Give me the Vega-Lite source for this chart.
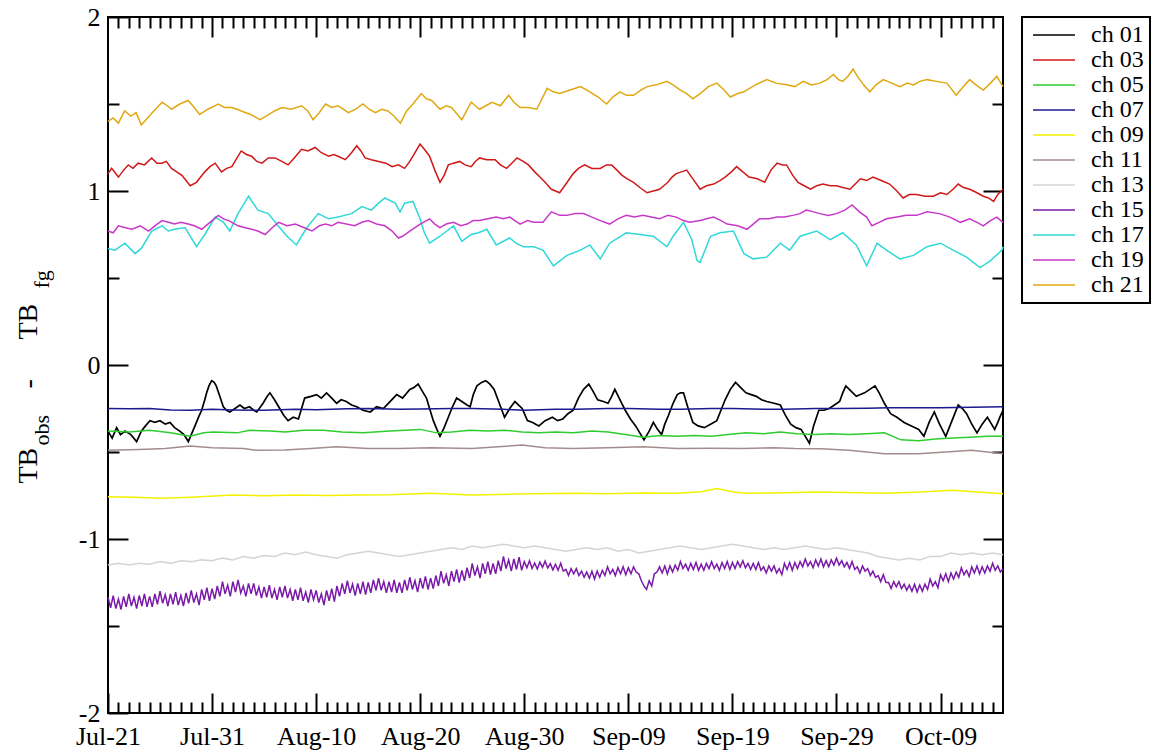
{
  "$schema": "https://vega.github.io/schema/vega-lite/v6.json",
  "width": 895,
  "height": 696,
  "autosize": "none",
  "padding": {"left": 108, "top": 17, "right": 158, "bottom": 40},
  "background": "white",
  "config": {
    "font": "Liberation Serif",
    "view": {"stroke": "black", "strokeWidth": 2},
    "range": {"category": ["#000000", "#d01818", "#2ecc2e", "#1a1a8e", "#f2f200", "#a48c8c", "#d4d4d4", "#7a1aa8", "#30d8d8", "#c838c8", "#e0a810"]},
    "line": {"strokeWidth": 1.5},
    "axis": {"domain": false, "grid": false, "tickColor": "black", "tickWidth": 2, "labelColor": "black", "labelFont": "Liberation Serif", "labelFontSize": 26, "titleColor": "black", "titleFont": "Liberation Serif", "titleFontWeight": "normal", "titleAngle": 270, "titleAlign": "left", "titleBaseline": "alphabetic"},
    "legend": {"orient": "none", "legendX": 914, "legendY": 0, "direction": "vertical", "strokeColor": "black", "strokeWidth": 2, "fillColor": "white", "padding": 6, "labelFont": "Liberation Serif", "labelFontSize": 24, "labelColor": "black", "symbolType": "M-1,0H5", "symbolSize": 196, "symbolStrokeWidth": 1.5, "labelOffset": 39, "rowPadding": 1, "labelLimit": 0}
  },
  "datasets": {
    "c01": [{"d":0,"v":-0.38},{"d":0.4,"v":-0.42},{"d":0.83,"v":-0.36},{"d":1.2,"v":-0.4},{"d":1.63,"v":-0.38},{"d":2.2,"v":-0.4},{"d":2.75,"v":-0.44},{"d":3.2,"v":-0.38},{"d":3.6,"v":-0.35},{"d":4.03,"v":-0.32},{"d":4.5,"v":-0.33},{"d":5,"v":-0.32},{"d":5.5,"v":-0.34},{"d":5.96,"v":-0.33},{"d":6.4,"v":-0.36},{"d":6.9,"v":-0.38},{"d":7.3,"v":-0.4},{"d":7.72,"v":-0.44},{"d":8,"v":-0.4},{"d":8.36,"v":-0.35},{"d":8.7,"v":-0.3},{"d":9,"v":-0.26},{"d":9.3,"v":-0.2},{"d":9.48,"v":-0.16},{"d":9.7,"v":-0.12},{"d":9.96,"v":-0.09},{"d":10.2,"v":-0.1},{"d":10.4,"v":-0.12},{"d":10.8,"v":-0.19},{"d":11.08,"v":-0.24},{"d":11.4,"v":-0.26},{"d":11.7,"v":-0.27},{"d":12.2,"v":-0.25},{"d":12.68,"v":-0.23},{"d":13.1,"v":-0.25},{"d":13.6,"v":-0.24},{"d":14,"v":-0.26},{"d":14.3,"v":-0.27},{"d":14.9,"v":-0.22},{"d":15.3,"v":-0.18},{"d":15.56,"v":-0.16},{"d":16,"v":-0.2},{"d":16.4,"v":-0.24},{"d":16.9,"v":-0.29},{"d":17.3,"v":-0.32},{"d":17.8,"v":-0.3},{"d":18.3,"v":-0.31},{"d":18.6,"v":-0.25},{"d":18.9,"v":-0.19},{"d":19.5,"v":-0.18},{"d":20.05,"v":-0.17},{"d":20.5,"v":-0.19},{"d":21,"v":-0.16},{"d":21.5,"v":-0.19},{"d":21.97,"v":-0.22},{"d":22.4,"v":-0.2},{"d":22.9,"v":-0.21},{"d":23.4,"v":-0.23},{"d":23.9,"v":-0.24},{"d":24.5,"v":-0.26},{"d":25.2,"v":-0.27},{"d":25.8,"v":-0.24},{"d":26.46,"v":-0.25},{"d":27.1,"v":-0.21},{"d":27.74,"v":-0.17},{"d":28.3,"v":-0.19},{"d":29,"v":-0.14},{"d":29.4,"v":-0.13},{"d":29.8,"v":-0.11},{"d":30.2,"v":-0.15},{"d":30.6,"v":-0.19},{"d":30.9,"v":-0.25},{"d":31.26,"v":-0.32},{"d":31.6,"v":-0.37},{"d":31.9,"v":-0.41},{"d":32.3,"v":-0.36},{"d":32.7,"v":-0.3},{"d":33.1,"v":-0.24},{"d":33.5,"v":-0.19},{"d":34,"v":-0.21},{"d":34.5,"v":-0.23},{"d":34.8,"v":-0.24},{"d":35.1,"v":-0.17},{"d":35.45,"v":-0.12},{"d":35.9,"v":-0.1},{"d":36.3,"v":-0.09},{"d":36.7,"v":-0.11},{"d":37.1,"v":-0.14},{"d":37.6,"v":-0.22},{"d":38.1,"v":-0.3},{"d":38.6,"v":-0.25},{"d":39.1,"v":-0.21},{"d":39.8,"v":-0.25},{"d":40.3,"v":-0.32},{"d":40.8,"v":-0.33},{"d":41.4,"v":-0.35},{"d":42,"v":-0.32},{"d":42.7,"v":-0.3},{"d":43.2,"v":-0.32},{"d":43.7,"v":-0.31},{"d":44.2,"v":-0.28},{"d":44.7,"v":-0.26},{"d":45.2,"v":-0.19},{"d":45.7,"v":-0.14},{"d":46.2,"v":-0.11},{"d":46.6,"v":-0.15},{"d":47.05,"v":-0.2},{"d":47.6,"v":-0.21},{"d":48.05,"v":-0.22},{"d":48.4,"v":-0.18},{"d":48.7,"v":-0.14},{"d":49.2,"v":-0.2},{"d":49.7,"v":-0.26},{"d":50.2,"v":-0.31},{"d":50.7,"v":-0.35},{"d":51.1,"v":-0.39},{"d":51.5,"v":-0.43},{"d":52,"v":-0.38},{"d":52.4,"v":-0.33},{"d":52.8,"v":-0.37},{"d":53.2,"v":-0.4},{"d":53.5,"v":-0.34},{"d":53.85,"v":-0.29},{"d":54.3,"v":-0.22},{"d":54.7,"v":-0.17},{"d":55,"v":-0.16},{"d":55.3,"v":-0.16},{"d":55.7,"v":-0.24},{"d":56.2,"v":-0.33},{"d":56.7,"v":-0.35},{"d":57.3,"v":-0.36},{"d":57.9,"v":-0.34},{"d":58.5,"v":-0.32},{"d":58.9,"v":-0.26},{"d":59.3,"v":-0.2},{"d":59.8,"v":-0.14},{"d":60.3,"v":-0.1},{"d":60.8,"v":-0.13},{"d":61.3,"v":-0.16},{"d":61.8,"v":-0.17},{"d":62.3,"v":-0.18},{"d":62.8,"v":-0.2},{"d":63.3,"v":-0.21},{"d":64,"v":-0.22},{"d":64.6,"v":-0.23},{"d":65.1,"v":-0.29},{"d":65.6,"v":-0.34},{"d":66.1,"v":-0.36},{"d":66.6,"v":-0.37},{"d":67,"v":-0.41},{"d":67.4,"v":-0.45},{"d":67.8,"v":-0.35},{"d":68.3,"v":-0.26},{"d":68.8,"v":-0.26},{"d":69.3,"v":-0.25},{"d":69.8,"v":-0.23},{"d":70.3,"v":-0.21},{"d":70.6,"v":-0.16},{"d":70.9,"v":-0.12},{"d":71.4,"v":-0.15},{"d":71.9,"v":-0.18},{"d":72.3,"v":-0.17},{"d":72.7,"v":-0.16},{"d":73.2,"v":-0.14},{"d":73.7,"v":-0.12},{"d":74.1,"v":-0.16},{"d":74.6,"v":-0.22},{"d":75.2,"v":-0.28},{"d":75.8,"v":-0.3},{"d":76.5,"v":-0.33},{"d":77.2,"v":-0.35},{"d":77.9,"v":-0.37},{"d":78.4,"v":-0.41},{"d":78.9,"v":-0.33},{"d":79.4,"v":-0.27},{"d":79.9,"v":-0.34},{"d":80.5,"v":-0.41},{"d":81.1,"v":-0.32},{"d":81.7,"v":-0.23},{"d":82.1,"v":-0.25},{"d":82.5,"v":-0.28},{"d":83,"v":-0.34},{"d":83.5,"v":-0.39},{"d":84,"v":-0.34},{"d":84.5,"v":-0.3},{"d":84.9,"v":-0.34},{"d":85.2,"v":-0.37},{"d":85.5,"v":-0.33},{"d":85.7,"v":-0.3},{"d":86,"v":-0.26}],
    "c03": [{"d":0,"v":1.1},{"d":0.35,"v":1.13},{"d":1,"v":1.08},{"d":1.5,"v":1.12},{"d":1.95,"v":1.15},{"d":2.4,"v":1.13},{"d":2.9,"v":1.16},{"d":3.5,"v":1.15},{"d":4.2,"v":1.19},{"d":4.7,"v":1.16},{"d":5.2,"v":1.16},{"d":5.6,"v":1.17},{"d":6.1,"v":1.13},{"d":6.6,"v":1.11},{"d":7.1,"v":1.09},{"d":7.5,"v":1.06},{"d":7.9,"v":1.03},{"d":8.5,"v":1.05},{"d":8.9,"v":1.08},{"d":9.3,"v":1.11},{"d":9.8,"v":1.14},{"d":10.3,"v":1.16},{"d":10.9,"v":1.11},{"d":11.4,"v":1.13},{"d":11.9,"v":1.14},{"d":12.4,"v":1.19},{"d":12.8,"v":1.23},{"d":13.3,"v":1.21},{"d":13.8,"v":1.2},{"d":14.3,"v":1.17},{"d":14.8,"v":1.16},{"d":15.4,"v":1.19},{"d":16.05,"v":1.19},{"d":16.7,"v":1.17},{"d":17.3,"v":1.15},{"d":17.9,"v":1.19},{"d":18.6,"v":1.24},{"d":19.2,"v":1.23},{"d":19.9,"v":1.25},{"d":20.5,"v":1.22},{"d":21.2,"v":1.2},{"d":21.7,"v":1.21},{"d":22.1,"v":1.2},{"d":22.8,"v":1.18},{"d":23.4,"v":1.22},{"d":23.9,"v":1.26},{"d":24.3,"v":1.23},{"d":24.7,"v":1.19},{"d":25.3,"v":1.18},{"d":26,"v":1.17},{"d":26.7,"v":1.16},{"d":27.3,"v":1.14},{"d":27.9,"v":1.15},{"d":28.5,"v":1.13},{"d":29,"v":1.17},{"d":29.5,"v":1.22},{"d":29.98,"v":1.27},{"d":30.4,"v":1.24},{"d":30.9,"v":1.2},{"d":31.4,"v":1.12},{"d":31.9,"v":1.05},{"d":32.3,"v":1.09},{"d":32.7,"v":1.15},{"d":33.2,"v":1.16},{"d":33.8,"v":1.17},{"d":34.3,"v":1.15},{"d":34.9,"v":1.14},{"d":35.3,"v":1.17},{"d":35.7,"v":1.19},{"d":36.4,"v":1.18},{"d":37.2,"v":1.18},{"d":37.7,"v":1.15},{"d":38.3,"v":1.13},{"d":38.8,"v":1.16},{"d":39.3,"v":1.19},{"d":39.9,"v":1.17},{"d":40.4,"v":1.15},{"d":41,"v":1.11},{"d":41.5,"v":1.08},{"d":42,"v":1.05},{"d":42.6,"v":1.01},{"d":43,"v":1},{"d":43.4,"v":0.99},{"d":44,"v":1.04},{"d":44.7,"v":1.1},{"d":45.2,"v":1.13},{"d":45.8,"v":1.15},{"d":46.5,"v":1.13},{"d":47.3,"v":1.13},{"d":47.9,"v":1.15},{"d":48.4,"v":1.15},{"d":48.9,"v":1.12},{"d":49.4,"v":1.09},{"d":49.9,"v":1.07},{"d":50.5,"v":1.05},{"d":51.1,"v":1.02},{"d":51.8,"v":0.99},{"d":52.4,"v":1},{"d":53,"v":1.01},{"d":53.4,"v":1.03},{"d":53.8,"v":1.05},{"d":54.2,"v":1.08},{"d":54.6,"v":1.1},{"d":55.1,"v":1.11},{"d":55.6,"v":1.12},{"d":56.2,"v":1.07},{"d":56.9,"v":1.01},{"d":57.5,"v":1.03},{"d":58.2,"v":1.04},{"d":58.8,"v":1.06},{"d":59.3,"v":1.08},{"d":59.9,"v":1.11},{"d":60.4,"v":1.14},{"d":61,"v":1.11},{"d":61.6,"v":1.08},{"d":62.4,"v":1.07},{"d":63.1,"v":1.05},{"d":63.7,"v":1.12},{"d":64.3,"v":1.16},{"d":64.8,"v":1.15},{"d":65.2,"v":1.15},{"d":65.8,"v":1.09},{"d":66.3,"v":1.05},{"d":66.9,"v":1.03},{"d":67.5,"v":1.01},{"d":68.1,"v":1.03},{"d":68.7,"v":1.04},{"d":69.4,"v":1.03},{"d":70,"v":1.03},{"d":70.6,"v":1.02},{"d":71.3,"v":1.01},{"d":71.8,"v":1.04},{"d":72.3,"v":1.07},{"d":72.9,"v":1.06},{"d":73.5,"v":1.08},{"d":74.3,"v":1.06},{"d":75.1,"v":1.04},{"d":75.8,"v":1},{"d":76.4,"v":0.96},{"d":77,"v":0.98},{"d":77.7,"v":0.98},{"d":78.5,"v":0.97},{"d":79.3,"v":0.97},{"d":80,"v":0.99},{"d":80.6,"v":0.98},{"d":81.2,"v":1.01},{"d":81.7,"v":1.04},{"d":82.2,"v":1.02},{"d":82.8,"v":1.01},{"d":83.5,"v":0.99},{"d":84.1,"v":0.97},{"d":84.6,"v":0.96},{"d":85.1,"v":0.94},{"d":85.5,"v":0.98},{"d":86,"v":1.01}],
    "c05": [{"d":0,"v":-0.38},{"d":2,"v":-0.385},{"d":4,"v":-0.375},{"d":6,"v":-0.39},{"d":7.9,"v":-0.41},{"d":9.2,"v":-0.39},{"d":10.1,"v":-0.385},{"d":12.4,"v":-0.39},{"d":13.6,"v":-0.375},{"d":15.6,"v":-0.38},{"d":17,"v":-0.385},{"d":18.8,"v":-0.375},{"d":20.7,"v":-0.375},{"d":22.5,"v":-0.385},{"d":24.5,"v":-0.39},{"d":27.1,"v":-0.38},{"d":30,"v":-0.37},{"d":31.6,"v":-0.39},{"d":33,"v":-0.385},{"d":34.8,"v":-0.375},{"d":36.5,"v":-0.38},{"d":38.1,"v":-0.375},{"d":39.8,"v":-0.385},{"d":41.4,"v":-0.39},{"d":43,"v":-0.385},{"d":44.7,"v":-0.39},{"d":46.5,"v":-0.38},{"d":48.05,"v":-0.385},{"d":49.7,"v":-0.4},{"d":51.4,"v":-0.415},{"d":53,"v":-0.405},{"d":54.7,"v":-0.41},{"d":56.3,"v":-0.405},{"d":58,"v":-0.41},{"d":59.6,"v":-0.4},{"d":61.3,"v":-0.39},{"d":63,"v":-0.395},{"d":64.6,"v":-0.385},{"d":66.2,"v":-0.395},{"d":67.9,"v":-0.4},{"d":69.5,"v":-0.395},{"d":71.2,"v":-0.4},{"d":72.9,"v":-0.395},{"d":74.6,"v":-0.39},{"d":76.2,"v":-0.43},{"d":77.9,"v":-0.435},{"d":79.5,"v":-0.425},{"d":81.2,"v":-0.42},{"d":82.8,"v":-0.415},{"d":84.5,"v":-0.41},{"d":86,"v":-0.41}],
    "c07": [{"d":0,"v":-0.25},{"d":2,"v":-0.252},{"d":4,"v":-0.25},{"d":6,"v":-0.258},{"d":8,"v":-0.26},{"d":10,"v":-0.255},{"d":12,"v":-0.258},{"d":15,"v":-0.26},{"d":18,"v":-0.255},{"d":20,"v":-0.257},{"d":23,"v":-0.252},{"d":25,"v":-0.25},{"d":28,"v":-0.255},{"d":30,"v":-0.253},{"d":33,"v":-0.25},{"d":35,"v":-0.25},{"d":38,"v":-0.255},{"d":40,"v":-0.26},{"d":43,"v":-0.255},{"d":45,"v":-0.255},{"d":48,"v":-0.25},{"d":50,"v":-0.25},{"d":53,"v":-0.255},{"d":55,"v":-0.255},{"d":58,"v":-0.25},{"d":60,"v":-0.25},{"d":63,"v":-0.255},{"d":65,"v":-0.255},{"d":68,"v":-0.25},{"d":70,"v":-0.25},{"d":73,"v":-0.248},{"d":75,"v":-0.245},{"d":78,"v":-0.246},{"d":80,"v":-0.245},{"d":83,"v":-0.243},{"d":86,"v":-0.24}],
    "c09": [{"d":0,"v":-0.757},{"d":2.5,"v":-0.76},{"d":5,"v":-0.766},{"d":8,"v":-0.76},{"d":12,"v":-0.747},{"d":15,"v":-0.752},{"d":18,"v":-0.747},{"d":21,"v":-0.75},{"d":24,"v":-0.747},{"d":27,"v":-0.745},{"d":31,"v":-0.737},{"d":35,"v":-0.747},{"d":39,"v":-0.742},{"d":44.7,"v":-0.737},{"d":48,"v":-0.74},{"d":51,"v":-0.735},{"d":54.7,"v":-0.737},{"d":57,"v":-0.728},{"d":58.5,"v":-0.71},{"d":60,"v":-0.728},{"d":61.3,"v":-0.737},{"d":64,"v":-0.735},{"d":68,"v":-0.73},{"d":71,"v":-0.733},{"d":74.6,"v":-0.737},{"d":78,"v":-0.73},{"d":81.2,"v":-0.72},{"d":83.5,"v":-0.73},{"d":86,"v":-0.74}],
    "c11": [{"d":0,"v":-0.49},{"d":3,"v":-0.485},{"d":5.5,"v":-0.48},{"d":7.9,"v":-0.465},{"d":10,"v":-0.475},{"d":13,"v":-0.48},{"d":14.3,"v":-0.49},{"d":17,"v":-0.488},{"d":19.5,"v":-0.48},{"d":22,"v":-0.47},{"d":25,"v":-0.48},{"d":28,"v":-0.48},{"d":31,"v":-0.475},{"d":35,"v":-0.48},{"d":37.5,"v":-0.47},{"d":39.8,"v":-0.46},{"d":42,"v":-0.475},{"d":44.7,"v":-0.48},{"d":48,"v":-0.475},{"d":51.4,"v":-0.47},{"d":54.7,"v":-0.48},{"d":58,"v":-0.478},{"d":61,"v":-0.48},{"d":64,"v":-0.475},{"d":66,"v":-0.48},{"d":68.5,"v":-0.482},{"d":71.2,"v":-0.49},{"d":74.6,"v":-0.51},{"d":77.9,"v":-0.51},{"d":80.5,"v":-0.5},{"d":83,"v":-0.49},{"d":86,"v":-0.51}],
    "c13": [{"d":0,"v":-1.15},{"d":1,"v":-1.14},{"d":2,"v":-1.15},{"d":3,"v":-1.14},{"d":4,"v":-1.145},{"d":5,"v":-1.13},{"d":6,"v":-1.14},{"d":7,"v":-1.125},{"d":8,"v":-1.13},{"d":9,"v":-1.12},{"d":10,"v":-1.125},{"d":11,"v":-1.11},{"d":12,"v":-1.12},{"d":13,"v":-1.1},{"d":14,"v":-1.11},{"d":15,"v":-1.095},{"d":16,"v":-1.1},{"d":17,"v":-1.08},{"d":18,"v":-1.09},{"d":19,"v":-1.075},{"d":20,"v":-1.09},{"d":21,"v":-1.1},{"d":22,"v":-1.11},{"d":23,"v":-1.09},{"d":24,"v":-1.08},{"d":25,"v":-1.07},{"d":26,"v":-1.08},{"d":27,"v":-1.09},{"d":28,"v":-1.1},{"d":29,"v":-1.09},{"d":30,"v":-1.08},{"d":31,"v":-1.07},{"d":32,"v":-1.06},{"d":33,"v":-1.05},{"d":34,"v":-1.06},{"d":35,"v":-1.04},{"d":36,"v":-1.05},{"d":37,"v":-1.04},{"d":38,"v":-1.03},{"d":39,"v":-1.04},{"d":40,"v":-1.05},{"d":41,"v":-1.04},{"d":42,"v":-1.05},{"d":43,"v":-1.06},{"d":44,"v":-1.07},{"d":45,"v":-1.06},{"d":46,"v":-1.05},{"d":47,"v":-1.06},{"d":48,"v":-1.05},{"d":49,"v":-1.07},{"d":50,"v":-1.06},{"d":51,"v":-1.08},{"d":52,"v":-1.07},{"d":53,"v":-1.06},{"d":54,"v":-1.05},{"d":55,"v":-1.04},{"d":56,"v":-1.05},{"d":57,"v":-1.06},{"d":58,"v":-1.05},{"d":59,"v":-1.04},{"d":60,"v":-1.03},{"d":61,"v":-1.04},{"d":62,"v":-1.05},{"d":63,"v":-1.06},{"d":64,"v":-1.05},{"d":65,"v":-1.06},{"d":66,"v":-1.05},{"d":67,"v":-1.04},{"d":68,"v":-1.05},{"d":69,"v":-1.06},{"d":70,"v":-1.05},{"d":71,"v":-1.06},{"d":72,"v":-1.07},{"d":73,"v":-1.08},{"d":74,"v":-1.1},{"d":75,"v":-1.11},{"d":76,"v":-1.12},{"d":77,"v":-1.11},{"d":78,"v":-1.12},{"d":79,"v":-1.1},{"d":80,"v":-1.1},{"d":81,"v":-1.08},{"d":82,"v":-1.09},{"d":83,"v":-1.08},{"d":84,"v":-1.09},{"d":85,"v":-1.08},{"d":86,"v":-1.09}],
    "c15": [{"d":0,"v":-1.335},{"d":0.25,"v":-1.395},{"d":0.5,"v":-1.325},{"d":0.75,"v":-1.4},{"d":1,"v":-1.345},{"d":1.25,"v":-1.405},{"d":1.5,"v":-1.33},{"d":1.75,"v":-1.39},{"d":2,"v":-1.315},{"d":2.25,"v":-1.385},{"d":2.5,"v":-1.335},{"d":2.75,"v":-1.4},{"d":3,"v":-1.325},{"d":3.25,"v":-1.385},{"d":3.5,"v":-1.315},{"d":3.75,"v":-1.39},{"d":4,"v":-1.33},{"d":4.25,"v":-1.39},{"d":4.5,"v":-1.315},{"d":4.75,"v":-1.375},{"d":5,"v":-1.3},{"d":5.25,"v":-1.37},{"d":5.5,"v":-1.32},{"d":5.75,"v":-1.385},{"d":6,"v":-1.315},{"d":6.25,"v":-1.375},{"d":6.5,"v":-1.305},{"d":6.75,"v":-1.38},{"d":7,"v":-1.325},{"d":7.25,"v":-1.385},{"d":7.5,"v":-1.31},{"d":7.75,"v":-1.37},{"d":8,"v":-1.295},{"d":8.25,"v":-1.365},{"d":8.5,"v":-1.315},{"d":8.75,"v":-1.38},{"d":9,"v":-1.29},{"d":9.25,"v":-1.35},{"d":9.5,"v":-1.28},{"d":9.75,"v":-1.355},{"d":10,"v":-1.285},{"d":10.25,"v":-1.345},{"d":10.5,"v":-1.27},{"d":10.75,"v":-1.33},{"d":11,"v":-1.245},{"d":11.25,"v":-1.315},{"d":11.5,"v":-1.265},{"d":11.75,"v":-1.33},{"d":12,"v":-1.245},{"d":12.25,"v":-1.305},{"d":12.5,"v":-1.235},{"d":12.75,"v":-1.31},{"d":13,"v":-1.27},{"d":13.25,"v":-1.33},{"d":13.5,"v":-1.255},{"d":13.75,"v":-1.315},{"d":14,"v":-1.255},{"d":14.25,"v":-1.325},{"d":14.5,"v":-1.275},{"d":14.75,"v":-1.34},{"d":15,"v":-1.275},{"d":15.25,"v":-1.335},{"d":15.5,"v":-1.265},{"d":15.75,"v":-1.34},{"d":16,"v":-1.29},{"d":16.25,"v":-1.35},{"d":16.5,"v":-1.275},{"d":16.75,"v":-1.335},{"d":17,"v":-1.27},{"d":17.25,"v":-1.34},{"d":17.5,"v":-1.29},{"d":17.75,"v":-1.355},{"d":18,"v":-1.29},{"d":18.25,"v":-1.35},{"d":18.5,"v":-1.28},{"d":18.75,"v":-1.355},{"d":19,"v":-1.305},{"d":19.25,"v":-1.365},{"d":19.5,"v":-1.29},{"d":19.75,"v":-1.35},{"d":20,"v":-1.295},{"d":20.25,"v":-1.365},{"d":20.5,"v":-1.315},{"d":20.75,"v":-1.38},{"d":21,"v":-1.295},{"d":21.25,"v":-1.355},{"d":21.5,"v":-1.285},{"d":21.75,"v":-1.36},{"d":22,"v":-1.27},{"d":22.25,"v":-1.33},{"d":22.5,"v":-1.255},{"d":22.75,"v":-1.315},{"d":23,"v":-1.24},{"d":23.25,"v":-1.31},{"d":23.5,"v":-1.26},{"d":23.75,"v":-1.325},{"d":24,"v":-1.255},{"d":24.25,"v":-1.315},{"d":24.5,"v":-1.245},{"d":24.75,"v":-1.32},{"d":25,"v":-1.25},{"d":25.25,"v":-1.31},{"d":25.5,"v":-1.235},{"d":25.75,"v":-1.295},{"d":26,"v":-1.225},{"d":26.25,"v":-1.295},{"d":26.5,"v":-1.245},{"d":26.75,"v":-1.31},{"d":27,"v":-1.245},{"d":27.25,"v":-1.305},{"d":27.5,"v":-1.235},{"d":27.75,"v":-1.31},{"d":28,"v":-1.25},{"d":28.25,"v":-1.31},{"d":28.5,"v":-1.235},{"d":28.75,"v":-1.295},{"d":29,"v":-1.22},{"d":29.25,"v":-1.29},{"d":29.5,"v":-1.24},{"d":29.75,"v":-1.305},{"d":30,"v":-1.225},{"d":30.25,"v":-1.285},{"d":30.5,"v":-1.215},{"d":30.75,"v":-1.29},{"d":31,"v":-1.225},{"d":31.25,"v":-1.285},{"d":31.5,"v":-1.21},{"d":31.75,"v":-1.27},{"d":32,"v":-1.185},{"d":32.25,"v":-1.255},{"d":32.5,"v":-1.205},{"d":32.75,"v":-1.27},{"d":33,"v":-1.185},{"d":33.25,"v":-1.245},{"d":33.5,"v":-1.175},{"d":33.75,"v":-1.25},{"d":34,"v":-1.18},{"d":34.25,"v":-1.24},{"d":34.5,"v":-1.165},{"d":34.75,"v":-1.225},{"d":35,"v":-1.14},{"d":35.25,"v":-1.21},{"d":35.5,"v":-1.16},{"d":35.75,"v":-1.225},{"d":36,"v":-1.14},{"d":36.25,"v":-1.2},{"d":36.5,"v":-1.13},{"d":36.75,"v":-1.205},{"d":37,"v":-1.14},{"d":37.25,"v":-1.2},{"d":37.5,"v":-1.125},{"d":37.75,"v":-1.185},{"d":38,"v":-1.1},{"d":38.25,"v":-1.17},{"d":38.5,"v":-1.12},{"d":38.75,"v":-1.185},{"d":39,"v":-1.115},{"d":39.25,"v":-1.175},{"d":39.5,"v":-1.105},{"d":39.75,"v":-1.18},{"d":40,"v":-1.13},{"d":40.25,"v":-1.165},{"d":40.5,"v":-1.125},{"d":40.75,"v":-1.17},{"d":41,"v":-1.138},{"d":41.25,"v":-1.173},{"d":41.5,"v":-1.133},{"d":41.75,"v":-1.163},{"d":42,"v":-1.127},{"d":42.25,"v":-1.167},{"d":42.5,"v":-1.142},{"d":42.75,"v":-1.177},{"d":43,"v":-1.145},{"d":43.25,"v":-1.18},{"d":43.5,"v":-1.14},{"d":43.75,"v":-1.185},{"d":44,"v":-1.175},{"d":44.25,"v":-1.21},{"d":44.5,"v":-1.17},{"d":44.75,"v":-1.2},{"d":45,"v":-1.17},{"d":45.25,"v":-1.21},{"d":45.5,"v":-1.185},{"d":45.75,"v":-1.22},{"d":46,"v":-1.19},{"d":46.25,"v":-1.225},{"d":46.5,"v":-1.185},{"d":46.75,"v":-1.23},{"d":47,"v":-1.185},{"d":47.25,"v":-1.22},{"d":47.5,"v":-1.18},{"d":47.75,"v":-1.21},{"d":48,"v":-1.16},{"d":48.25,"v":-1.2},{"d":48.5,"v":-1.175},{"d":48.75,"v":-1.21},{"d":49,"v":-1.165},{"d":49.25,"v":-1.2},{"d":49.5,"v":-1.16},{"d":49.75,"v":-1.205},{"d":50,"v":-1.165},{"d":50.25,"v":-1.2},{"d":50.5,"v":-1.16},{"d":50.75,"v":-1.19},{"d":51,"v":-1.2},{"d":51.25,"v":-1.24},{"d":51.5,"v":-1.27},{"d":51.75,"v":-1.29},{"d":52,"v":-1.24},{"d":52.25,"v":-1.27},{"d":52.5,"v":-1.2},{"d":52.75,"v":-1.19},{"d":53,"v":-1.16},{"d":53.25,"v":-1.195},{"d":53.5,"v":-1.155},{"d":53.75,"v":-1.2},{"d":54,"v":-1.155},{"d":54.25,"v":-1.19},{"d":54.5,"v":-1.15},{"d":54.75,"v":-1.18},{"d":55,"v":-1.13},{"d":55.25,"v":-1.17},{"d":55.5,"v":-1.145},{"d":55.75,"v":-1.18},{"d":56,"v":-1.14},{"d":56.25,"v":-1.175},{"d":56.5,"v":-1.135},{"d":56.75,"v":-1.18},{"d":57,"v":-1.145},{"d":57.25,"v":-1.18},{"d":57.5,"v":-1.14},{"d":57.75,"v":-1.17},{"d":58,"v":-1.13},{"d":58.25,"v":-1.17},{"d":58.5,"v":-1.145},{"d":58.75,"v":-1.18},{"d":59,"v":-1.135},{"d":59.25,"v":-1.17},{"d":59.5,"v":-1.13},{"d":59.75,"v":-1.175},{"d":60,"v":-1.135},{"d":60.25,"v":-1.17},{"d":60.5,"v":-1.13},{"d":60.75,"v":-1.16},{"d":61,"v":-1.125},{"d":61.25,"v":-1.165},{"d":61.5,"v":-1.14},{"d":61.75,"v":-1.175},{"d":62,"v":-1.14},{"d":62.25,"v":-1.175},{"d":62.5,"v":-1.135},{"d":62.75,"v":-1.18},{"d":63,"v":-1.16},{"d":63.25,"v":-1.195},{"d":63.5,"v":-1.155},{"d":63.75,"v":-1.185},{"d":64,"v":-1.155},{"d":64.25,"v":-1.195},{"d":64.5,"v":-1.17},{"d":64.75,"v":-1.205},{"d":65,"v":-1.14},{"d":65.25,"v":-1.175},{"d":65.5,"v":-1.135},{"d":65.75,"v":-1.18},{"d":66,"v":-1.135},{"d":66.25,"v":-1.17},{"d":66.5,"v":-1.13},{"d":66.75,"v":-1.16},{"d":67,"v":-1.115},{"d":67.25,"v":-1.155},{"d":67.5,"v":-1.13},{"d":67.75,"v":-1.165},{"d":68,"v":-1.12},{"d":68.25,"v":-1.155},{"d":68.5,"v":-1.115},{"d":68.75,"v":-1.16},{"d":69,"v":-1.125},{"d":69.25,"v":-1.16},{"d":69.5,"v":-1.12},{"d":69.75,"v":-1.15},{"d":70,"v":-1.11},{"d":70.25,"v":-1.15},{"d":70.5,"v":-1.125},{"d":70.75,"v":-1.16},{"d":71,"v":-1.135},{"d":71.25,"v":-1.17},{"d":71.5,"v":-1.13},{"d":71.75,"v":-1.175},{"d":72,"v":-1.16},{"d":72.25,"v":-1.195},{"d":72.5,"v":-1.155},{"d":72.75,"v":-1.185},{"d":73,"v":-1.17},{"d":73.25,"v":-1.21},{"d":73.5,"v":-1.185},{"d":73.75,"v":-1.22},{"d":74,"v":-1.21},{"d":74.25,"v":-1.245},{"d":74.5,"v":-1.205},{"d":74.75,"v":-1.25},{"d":75,"v":-1.25},{"d":75.25,"v":-1.285},{"d":75.5,"v":-1.245},{"d":75.75,"v":-1.275},{"d":76,"v":-1.245},{"d":76.25,"v":-1.285},{"d":76.5,"v":-1.26},{"d":76.75,"v":-1.295},{"d":77,"v":-1.265},{"d":77.25,"v":-1.3},{"d":77.5,"v":-1.26},{"d":77.75,"v":-1.305},{"d":78,"v":-1.265},{"d":78.25,"v":-1.3},{"d":78.5,"v":-1.26},{"d":78.75,"v":-1.29},{"d":79,"v":-1.23},{"d":79.25,"v":-1.27},{"d":79.5,"v":-1.245},{"d":79.75,"v":-1.28},{"d":80,"v":-1.205},{"d":80.25,"v":-1.24},{"d":80.5,"v":-1.2},{"d":80.75,"v":-1.245},{"d":81,"v":-1.195},{"d":81.25,"v":-1.23},{"d":81.5,"v":-1.19},{"d":81.75,"v":-1.22},{"d":82,"v":-1.165},{"d":82.25,"v":-1.205},{"d":82.5,"v":-1.18},{"d":82.75,"v":-1.215},{"d":83,"v":-1.16},{"d":83.25,"v":-1.195},{"d":83.5,"v":-1.155},{"d":83.75,"v":-1.2},{"d":84,"v":-1.16},{"d":84.25,"v":-1.195},{"d":84.5,"v":-1.155},{"d":84.75,"v":-1.185},{"d":85,"v":-1.14},{"d":85.25,"v":-1.18},{"d":85.5,"v":-1.155},{"d":85.75,"v":-1.19},{"d":86,"v":-1.17}],
    "c17": [{"d":0,"v":0.67},{"d":0.67,"v":0.66},{"d":1.63,"v":0.7},{"d":2.6,"v":0.64},{"d":3.2,"v":0.67},{"d":4.2,"v":0.77},{"d":5.2,"v":0.8},{"d":5.8,"v":0.77},{"d":6.4,"v":0.78},{"d":7.4,"v":0.79},{"d":8,"v":0.73},{"d":8.5,"v":0.68},{"d":9.3,"v":0.75},{"d":10.3,"v":0.85},{"d":11.1,"v":0.82},{"d":11.7,"v":0.77},{"d":12.5,"v":0.87},{"d":13,"v":0.92},{"d":13.5,"v":0.97},{"d":14.4,"v":0.89},{"d":15.4,"v":0.87},{"d":16.2,"v":0.81},{"d":17.2,"v":0.74},{"d":18.1,"v":0.69},{"d":18.7,"v":0.75},{"d":19.25,"v":0.8},{"d":20.2,"v":0.87},{"d":21.2,"v":0.84},{"d":22.1,"v":0.85},{"d":23.4,"v":0.87},{"d":24.4,"v":0.91},{"d":25.3,"v":0.89},{"d":26,"v":0.93},{"d":26.6,"v":0.96},{"d":27.6,"v":0.93},{"d":28.06,"v":0.88},{"d":28.5,"v":0.93},{"d":29.3,"v":0.94},{"d":29.98,"v":0.84},{"d":30.4,"v":0.76},{"d":30.9,"v":0.7},{"d":31.9,"v":0.74},{"d":33.2,"v":0.8},{"d":34,"v":0.71},{"d":34.9,"v":0.75},{"d":35.6,"v":0.76},{"d":36.4,"v":0.78},{"d":37.3,"v":0.69},{"d":38.6,"v":0.73},{"d":39.2,"v":0.7},{"d":39.9,"v":0.68},{"d":40.9,"v":0.68},{"d":41.8,"v":0.66},{"d":42.8,"v":0.57},{"d":44.1,"v":0.63},{"d":45.4,"v":0.66},{"d":46.3,"v":0.69},{"d":47.3,"v":0.61},{"d":48.2,"v":0.7},{"d":49.8,"v":0.76},{"d":51.1,"v":0.75},{"d":52.4,"v":0.74},{"d":53.7,"v":0.68},{"d":54.3,"v":0.74},{"d":55.3,"v":0.82},{"d":56.1,"v":0.72},{"d":56.6,"v":0.6},{"d":56.9,"v":0.59},{"d":57.9,"v":0.74},{"d":58.8,"v":0.76},{"d":60.1,"v":0.77},{"d":61.1,"v":0.64},{"d":62,"v":0.61},{"d":63.3,"v":0.62},{"d":64.6,"v":0.7},{"d":65.5,"v":0.66},{"d":66.5,"v":0.74},{"d":68.1,"v":0.77},{"d":69.4,"v":0.72},{"d":70.6,"v":0.76},{"d":71.9,"v":0.69},{"d":72.9,"v":0.57},{"d":73.9,"v":0.7},{"d":74.8,"v":0.66},{"d":76.1,"v":0.61},{"d":77.4,"v":0.63},{"d":78.7,"v":0.68},{"d":80,"v":0.7},{"d":81.2,"v":0.66},{"d":82.5,"v":0.62},{"d":83.8,"v":0.56},{"d":84.8,"v":0.6},{"d":85.9,"v":0.66},{"d":86,"v":0.68}],
    "c19": [{"d":0,"v":0.77},{"d":0.5,"v":0.76},{"d":1,"v":0.8},{"d":1.6,"v":0.79},{"d":2.3,"v":0.78},{"d":3.1,"v":0.8},{"d":3.9,"v":0.77},{"d":4.5,"v":0.8},{"d":5.2,"v":0.83},{"d":5.8,"v":0.82},{"d":6.4,"v":0.81},{"d":7,"v":0.82},{"d":7.7,"v":0.81},{"d":8.3,"v":0.8},{"d":9,"v":0.78},{"d":9.8,"v":0.82},{"d":10.6,"v":0.86},{"d":11.1,"v":0.84},{"d":11.6,"v":0.83},{"d":12.5,"v":0.8},{"d":13.1,"v":0.79},{"d":13.8,"v":0.78},{"d":14.4,"v":0.77},{"d":15.1,"v":0.75},{"d":15.8,"v":0.79},{"d":16.4,"v":0.82},{"d":17.2,"v":0.8},{"d":18,"v":0.81},{"d":18.8,"v":0.79},{"d":19.6,"v":0.77},{"d":20.3,"v":0.8},{"d":20.9,"v":0.81},{"d":21.5,"v":0.8},{"d":22.1,"v":0.82},{"d":22.9,"v":0.81},{"d":23.7,"v":0.8},{"d":24.4,"v":0.82},{"d":25,"v":0.83},{"d":25.8,"v":0.81},{"d":26.6,"v":0.8},{"d":27.3,"v":0.77},{"d":27.9,"v":0.73},{"d":28.3,"v":0.74},{"d":29,"v":0.77},{"d":30,"v":0.81},{"d":30.9,"v":0.84},{"d":31.4,"v":0.81},{"d":31.9,"v":0.79},{"d":32.5,"v":0.81},{"d":33.2,"v":0.82},{"d":33.9,"v":0.8},{"d":34.5,"v":0.81},{"d":35.1,"v":0.83},{"d":35.7,"v":0.83},{"d":36.5,"v":0.84},{"d":37.3,"v":0.85},{"d":38,"v":0.84},{"d":38.6,"v":0.85},{"d":39.6,"v":0.81},{"d":40.3,"v":0.83},{"d":40.9,"v":0.82},{"d":41.8,"v":0.82},{"d":42.6,"v":0.88},{"d":43.4,"v":0.86},{"d":44.1,"v":0.86},{"d":44.9,"v":0.87},{"d":45.7,"v":0.87},{"d":46.5,"v":0.85},{"d":47.3,"v":0.83},{"d":48.2,"v":0.81},{"d":49,"v":0.84},{"d":49.8,"v":0.86},{"d":50.6,"v":0.85},{"d":51.4,"v":0.86},{"d":52.2,"v":0.85},{"d":53,"v":0.84},{"d":53.8,"v":0.86},{"d":54.6,"v":0.85},{"d":55.3,"v":0.83},{"d":55.9,"v":0.82},{"d":56.9,"v":0.83},{"d":57.5,"v":0.84},{"d":58.2,"v":0.85},{"d":58.9,"v":0.83},{"d":59.5,"v":0.81},{"d":60.5,"v":0.8},{"d":61.4,"v":0.78},{"d":62,"v":0.81},{"d":62.6,"v":0.84},{"d":63.5,"v":0.84},{"d":64.3,"v":0.85},{"d":65,"v":0.85},{"d":65.8,"v":0.86},{"d":66.5,"v":0.87},{"d":67.1,"v":0.89},{"d":67.8,"v":0.88},{"d":68.4,"v":0.87},{"d":69.2,"v":0.86},{"d":70,"v":0.87},{"d":70.8,"v":0.89},{"d":71.5,"v":0.92},{"d":72.2,"v":0.88},{"d":72.9,"v":0.85},{"d":73.4,"v":0.8},{"d":74.1,"v":0.82},{"d":74.8,"v":0.84},{"d":75.8,"v":0.85},{"d":76.7,"v":0.86},{"d":77.7,"v":0.86},{"d":78.7,"v":0.88},{"d":79.9,"v":0.87},{"d":80.9,"v":0.85},{"d":81.9,"v":0.82},{"d":82.8,"v":0.84},{"d":83.5,"v":0.82},{"d":84.1,"v":0.8},{"d":84.8,"v":0.83},{"d":85.4,"v":0.85},{"d":86,"v":0.82}],
    "c21": [{"d":0,"v":1.4},{"d":0.5,"v":1.42},{"d":1,"v":1.39},{"d":1.6,"v":1.46},{"d":2.2,"v":1.43},{"d":2.7,"v":1.45},{"d":3.2,"v":1.38},{"d":3.8,"v":1.42},{"d":4.4,"v":1.46},{"d":5.2,"v":1.51},{"d":5.7,"v":1.49},{"d":6.1,"v":1.47},{"d":6.9,"v":1.5},{"d":7.7,"v":1.52},{"d":8.3,"v":1.48},{"d":8.8,"v":1.44},{"d":9.6,"v":1.47},{"d":10.6,"v":1.5},{"d":11.2,"v":1.48},{"d":11.9,"v":1.48},{"d":12.4,"v":1.47},{"d":12.8,"v":1.46},{"d":13.7,"v":1.44},{"d":14.6,"v":1.41},{"d":15.2,"v":1.43},{"d":16,"v":1.46},{"d":16.7,"v":1.48},{"d":17.6,"v":1.47},{"d":18.6,"v":1.49},{"d":19.2,"v":1.46},{"d":19.7,"v":1.41},{"d":20.3,"v":1.45},{"d":20.9,"v":1.5},{"d":21.5,"v":1.48},{"d":22.1,"v":1.49},{"d":22.6,"v":1.47},{"d":23.1,"v":1.45},{"d":23.8,"v":1.47},{"d":24.5,"v":1.5},{"d":25.1,"v":1.47},{"d":25.7,"v":1.45},{"d":26.3,"v":1.47},{"d":26.9,"v":1.46},{"d":27.5,"v":1.43},{"d":28.1,"v":1.39},{"d":28.7,"v":1.46},{"d":29.3,"v":1.5},{"d":30.1,"v":1.56},{"d":30.6,"v":1.53},{"d":31.1,"v":1.52},{"d":31.9,"v":1.47},{"d":32.5,"v":1.49},{"d":33,"v":1.48},{"d":34,"v":1.41},{"d":34.9,"v":1.51},{"d":35.3,"v":1.49},{"d":35.7,"v":1.47},{"d":36.3,"v":1.49},{"d":36.9,"v":1.51},{"d":37.7,"v":1.49},{"d":38.5,"v":1.55},{"d":39,"v":1.51},{"d":39.6,"v":1.48},{"d":40.4,"v":1.48},{"d":41.2,"v":1.47},{"d":42.2,"v":1.59},{"d":42.8,"v":1.57},{"d":43.4,"v":1.56},{"d":44.4,"v":1.58},{"d":45.4,"v":1.6},{"d":46.3,"v":1.57},{"d":47.1,"v":1.54},{"d":47.9,"v":1.5},{"d":48.5,"v":1.54},{"d":49.2,"v":1.57},{"d":49.8,"v":1.55},{"d":50.5,"v":1.55},{"d":51.2,"v":1.58},{"d":51.8,"v":1.6},{"d":52.7,"v":1.61},{"d":53.7,"v":1.63},{"d":54.3,"v":1.61},{"d":55,"v":1.58},{"d":55.6,"v":1.56},{"d":56.2,"v":1.53},{"d":56.9,"v":1.56},{"d":57.7,"v":1.6},{"d":58.5,"v":1.62},{"d":59.2,"v":1.58},{"d":59.8,"v":1.54},{"d":60.5,"v":1.56},{"d":61.1,"v":1.57},{"d":62.2,"v":1.61},{"d":63.3,"v":1.64},{"d":64.2,"v":1.62},{"d":65.2,"v":1.61},{"d":66,"v":1.6},{"d":66.8,"v":1.63},{"d":67.6,"v":1.61},{"d":68.4,"v":1.62},{"d":69.1,"v":1.64},{"d":69.7,"v":1.67},{"d":70.2,"v":1.64},{"d":70.6,"v":1.63},{"d":71.1,"v":1.66},{"d":71.6,"v":1.7},{"d":72,"v":1.66},{"d":72.6,"v":1.61},{"d":73.2,"v":1.57},{"d":73.8,"v":1.61},{"d":74.5,"v":1.64},{"d":75.3,"v":1.62},{"d":76.1,"v":1.6},{"d":76.8,"v":1.62},{"d":77.4,"v":1.61},{"d":78,"v":1.63},{"d":78.7,"v":1.64},{"d":79.6,"v":1.63},{"d":80.6,"v":1.62},{"d":81,"v":1.59},{"d":81.5,"v":1.55},{"d":82.2,"v":1.6},{"d":82.8,"v":1.64},{"d":83.4,"v":1.61},{"d":84.1,"v":1.58},{"d":84.8,"v":1.62},{"d":85.4,"v":1.66},{"d":86,"v":1.6}]
  },
  "layer": [
    {
      "data": {"name": "c01"},
      "mark": {"type": "line", "strokeWidth": 1.7},
      "encoding": {
        "x": {"field": "d", "type": "quantitative", "scale": {"domain": [0, 86], "nice": false, "zero": false},
          "axis": {"orient": "bottom", "offset": -20, "tickSize": 20, "values": [0, 10, 20, 30, 40, 50, 60, 70, 80],
            "labelExpr": "timeFormat(datetime(2012, 6, 21 + datum.value), '%b-%d')",
            "labelPadding": 10, "labelOverlap": false, "labelFlush": false,
            "title": "obs", "titleFontSize": 22, "titleX": -60, "titleY": -248}},
        "y": {"field": "v", "type": "quantitative", "scale": {"domain": [-2, 2], "nice": false, "zero": false},
          "axis": {"orient": "left", "offset": -20, "tickSize": 20, "values": [-2, -1, 0, 1, 2],
            "labelExpr": "'' + datum.value",
            "labelPadding": 8, "labelOverlap": false, "labelFlush": false,
            "title": "TB", "titleFontSize": 28, "titleX": -92, "titleY": 466}},
        "color": {"datum": "ch 01", "legend": {"title": null}}
      }
    },
    {
      "data": {"name": "c03"},
      "mark": "line",
      "encoding": {
        "x": {"field": "d", "type": "quantitative",
          "axis": {"orient": "bottom", "offset": -11, "tickSize": 11, "values": [1,2,3,4,5,6,7,8,9,11,12,13,14,15,16,17,18,19,21,22,23,24,25,26,27,28,29,31,32,33,34,35,36,37,38,39,41,42,43,44,45,46,47,48,49,51,52,53,54,55,56,57,58,59,61,62,63,64,65,66,67,68,69,71,72,73,74,75,76,77,78,79,81,82,83,84,85], "labels": false, "title": null}},
        "y": {"field": "v", "type": "quantitative",
          "axis": {"orient": "left", "offset": -11, "tickSize": 11, "values": [-1.5, -0.5, 0.5, 1.5], "labels": false,
            "title": "-", "titleFontSize": 28, "titleX": -83, "titleY": 371}},
        "color": {"datum": "ch 03"}
      }
    },
    {
      "data": {"name": "c05"},
      "mark": "line",
      "encoding": {
        "x": {"field": "d", "type": "quantitative",
          "axis": {"orient": "top", "offset": -20, "tickSize": 20, "values": [10, 20, 30, 40, 50, 60, 70, 80], "labels": false,
            "title": "fg", "titleFontSize": 22, "titleX": -60, "titleY": 251}},
        "y": {"field": "v", "type": "quantitative",
          "axis": {"orient": "right", "offset": -20, "tickSize": 20, "values": [-1, 0, 1], "labels": false,
            "title": "TB", "titleFontSize": 28, "titleX": -947, "titleY": 322}},
        "color": {"datum": "ch 05"}
      }
    },
    {
      "data": {"name": "c07"},
      "mark": "line",
      "encoding": {
        "x": {"field": "d", "type": "quantitative",
          "axis": {"orient": "top", "offset": -11, "tickSize": 11, "values": [1,2,3,4,5,6,7,8,9,11,12,13,14,15,16,17,18,19,21,22,23,24,25,26,27,28,29,31,32,33,34,35,36,37,38,39,41,42,43,44,45,46,47,48,49,51,52,53,54,55,56,57,58,59,61,62,63,64,65,66,67,68,69,71,72,73,74,75,76,77,78,79,81,82,83,84,85], "labels": false, "title": null}},
        "y": {"field": "v", "type": "quantitative",
          "axis": {"orient": "right", "offset": -11, "tickSize": 11, "values": [-1.5, -0.5, 0.5, 1.5], "labels": false, "title": null}},
        "color": {"datum": "ch 07"}
      }
    },
    {"data": {"name": "c09"}, "mark": "line", "encoding": {"x": {"field": "d", "type": "quantitative", "axis": null}, "y": {"field": "v", "type": "quantitative", "axis": null}, "color": {"datum": "ch 09"}}},
    {"data": {"name": "c11"}, "mark": "line", "encoding": {"x": {"field": "d", "type": "quantitative", "axis": null}, "y": {"field": "v", "type": "quantitative", "axis": null}, "color": {"datum": "ch 11"}}},
    {"data": {"name": "c13"}, "mark": "line", "encoding": {"x": {"field": "d", "type": "quantitative", "axis": null}, "y": {"field": "v", "type": "quantitative", "axis": null}, "color": {"datum": "ch 13"}}},
    {"data": {"name": "c15"}, "mark": "line", "encoding": {"x": {"field": "d", "type": "quantitative", "axis": null}, "y": {"field": "v", "type": "quantitative", "axis": null}, "color": {"datum": "ch 15"}}},
    {"data": {"name": "c17"}, "mark": "line", "encoding": {"x": {"field": "d", "type": "quantitative", "axis": null}, "y": {"field": "v", "type": "quantitative", "axis": null}, "color": {"datum": "ch 17"}}},
    {"data": {"name": "c19"}, "mark": "line", "encoding": {"x": {"field": "d", "type": "quantitative", "axis": null}, "y": {"field": "v", "type": "quantitative", "axis": null}, "color": {"datum": "ch 19"}}},
    {"data": {"name": "c21"}, "mark": "line", "encoding": {"x": {"field": "d", "type": "quantitative", "axis": null}, "y": {"field": "v", "type": "quantitative", "axis": null}, "color": {"datum": "ch 21"}}}
  ],
  "resolve": {"axis": {"x": "independent", "y": "independent"}}
}
